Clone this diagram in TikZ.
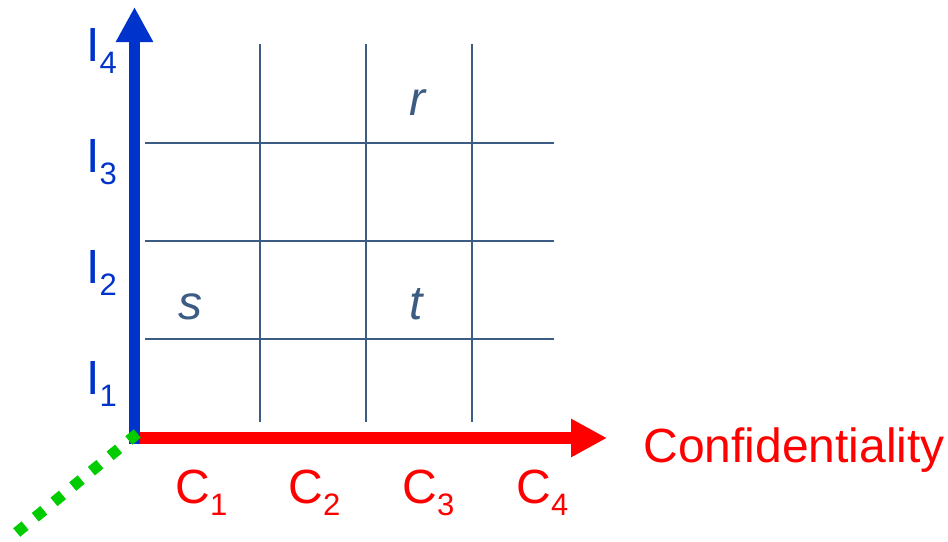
\documentclass[tikz,border=0pt]{standalone}
\usepackage{fontspec}
\setmainfont{Liberation Sans}
\usetikzlibrary{arrows.meta}
\definecolor{axblue}{HTML}{0033CC}
\definecolor{axred}{HTML}{FF0000}
\definecolor{axgreen}{HTML}{00CC00}
\definecolor{gridc}{HTML}{3C5C84}
\newcommand\lblsub[1]{\raisebox{-6pt}{\fontsize{15.5}{16}\selectfont #1}}
\begin{document}
\begin{tikzpicture}[x=0.5pt,y=-0.5pt,
  gridline/.style={draw=gridc,line width=1pt},
  lbl/.style={inner sep=0pt,anchor=base west,font=\fontsize{24}{28}\selectfont},
  ilbl/.style={lbl,text=axblue},
  clbl/.style={lbl,text=axred},
  pt/.style={inner sep=0pt,anchor=base,text=gridc,font=\fontsize{24}{28}\selectfont\itshape}]
\useasboundingbox (0,0) rectangle (948,541);
% grid
\foreach \x/\n in {260/a,366/b,472/c}{
  \coordinate (v\n t) at (\x,44);
  \coordinate (v\n b) at (\x,422);
  \draw[gridline] (v\n t) -- (v\n b);
}
\foreach \y/\n in {143/a,241/b,339/c}{
  \coordinate (h\n l) at (145,\y);
  \coordinate (h\n r) at (554,\y);
  \draw[gridline] (h\n l) -- (h\n r);
}
% axes
\coordinate (O) at (134,438);
\coordinate (Cend) at (607,438);
\coordinate (Obot) at (134.5,444);
\coordinate (Itop) at (134.5,7);
\draw[axred,line width=6pt,-{Triangle[width=18pt,length=18pt]}] (O) -- (Cend);
\draw[axblue,line width=5.5pt,-{Triangle[width=17.5pt,length=17.5pt]}] (Obot) -- (Itop);
\coordinate (gs) at (137.3,433.5);
\coordinate (ge) at (16.7,532.5);
\draw[axgreen,line width=5.5pt,dash pattern=on 5.5pt off 6.6pt] (gs) -- (ge);
% labels
\node[ilbl] (i4) at (86,61) {I\lblsub{4}};
\node[ilbl] (i3) at (86,172) {I\lblsub{3}};
\node[ilbl] (i2) at (86,283) {I\lblsub{2}};
\node[ilbl] (i1) at (86,394) {I\lblsub{1}};
\node[clbl] (c1) at (175,503) {C\lblsub{1}};
\node[clbl] (c2) at (288,503) {C\lblsub{2}};
\node[clbl] (c3) at (402,503) {C\lblsub{3}};
\node[clbl] (c4) at (516,503) {C\lblsub{4}};
\node[clbl] (conf) at (643,462) {Confidentiality};
\node[pt] (r) at (417,115) {r};
\node[pt] (s) at (190,319) {s};
\node[pt] (t) at (416,319) {t};
\end{tikzpicture}
\end{document}
